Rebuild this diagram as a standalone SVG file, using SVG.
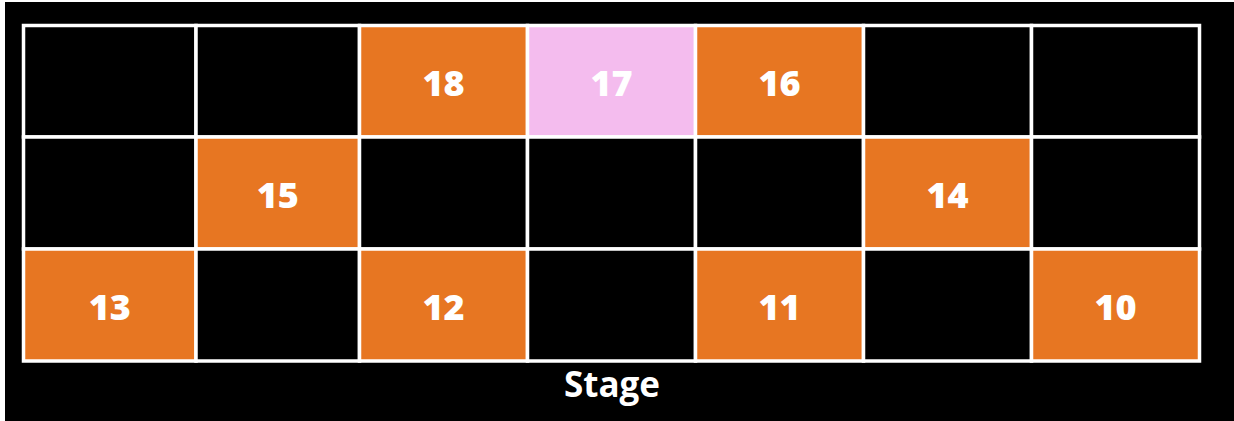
<svg xmlns="http://www.w3.org/2000/svg" width="1234" height="421" viewBox="0 0 1234 421">
<style>
.c{stroke:#ffffff;stroke-width:3.5}
.k{fill:#000000}
.o{fill:#E77622}
.p{fill:#F4BCEE}
.t{fill:#ffffff;font-family:"Open Sans","DejaVu Sans",sans-serif;font-weight:800;font-size:36px;text-anchor:middle}
.s{fill:#ffffff;font-family:"Open Sans","DejaVu Sans",sans-serif;font-weight:700;font-size:35px;text-anchor:middle}
</style>
<rect x="0" y="0" width="1234" height="421" fill="#ffffff"/>
<rect x="5" y="2" width="1229" height="419" fill="#000000"/>
<g id="row1">
<g id="r1c1"><rect class="c k" x="23.5" y="25.5" width="172.5" height="111.5"/></g>
<g id="r1c2"><rect class="c k" x="196" y="25.5" width="163.5" height="111.5"/></g>
<g id="seat18"><rect class="c o" x="359.5" y="25.5" width="168" height="111.5"/><text class="t" x="443.5" y="96">18</text></g>
<g id="seat17"><rect class="c p" x="527.5" y="25.5" width="168" height="111.5"/><text class="t" x="611.5" y="96">17</text></g>
<g id="seat16"><rect class="c o" x="695.5" y="25.5" width="168" height="111.5"/><text class="t" x="779.5" y="96">16</text></g>
<g id="r1c6"><rect class="c k" x="863.5" y="25.5" width="168" height="111.5"/></g>
<g id="r1c7"><rect class="c k" x="1031.5" y="25.5" width="168" height="111.5"/></g>
</g>
<g id="row2">
<g id="r2c1"><rect class="c k" x="23.5" y="137" width="172.5" height="112"/></g>
<g id="seat15"><rect class="c o" x="196" y="137" width="163.5" height="112"/><text class="t" x="277.75" y="208">15</text></g>
<g id="r2c3"><rect class="c k" x="359.5" y="137" width="168" height="112"/></g>
<g id="r2c4"><rect class="c k" x="527.5" y="137" width="168" height="112"/></g>
<g id="r2c5"><rect class="c k" x="695.5" y="137" width="168" height="112"/></g>
<g id="seat14"><rect class="c o" x="863.5" y="137" width="168" height="112"/><text class="t" x="947.5" y="208">14</text></g>
<g id="r2c7"><rect class="c k" x="1031.5" y="137" width="168" height="112"/></g>
</g>
<g id="row3">
<g id="seat13"><rect class="c o" x="23.5" y="249" width="172.5" height="112"/><text class="t" x="109.75" y="320">13</text></g>
<g id="r3c2"><rect class="c k" x="196" y="249" width="163.5" height="112"/></g>
<g id="seat12"><rect class="c o" x="359.5" y="249" width="168" height="112"/><text class="t" x="443.5" y="320">12</text></g>
<g id="r3c4"><rect class="c k" x="527.5" y="249" width="168" height="112"/></g>
<g id="seat11"><rect class="c o" x="695.5" y="249" width="168" height="112"/><text class="t" x="779.5" y="320">11</text></g>
<g id="r3c6"><rect class="c k" x="863.5" y="249" width="168" height="112"/></g>
<g id="seat10"><rect class="c o" x="1031.5" y="249" width="168" height="112"/><text class="t" x="1115.5" y="320">10</text></g>
</g>
<g id="connectors"/>
<g id="stage"><text class="s" x="612" y="397">Stage</text></g>
</svg>
